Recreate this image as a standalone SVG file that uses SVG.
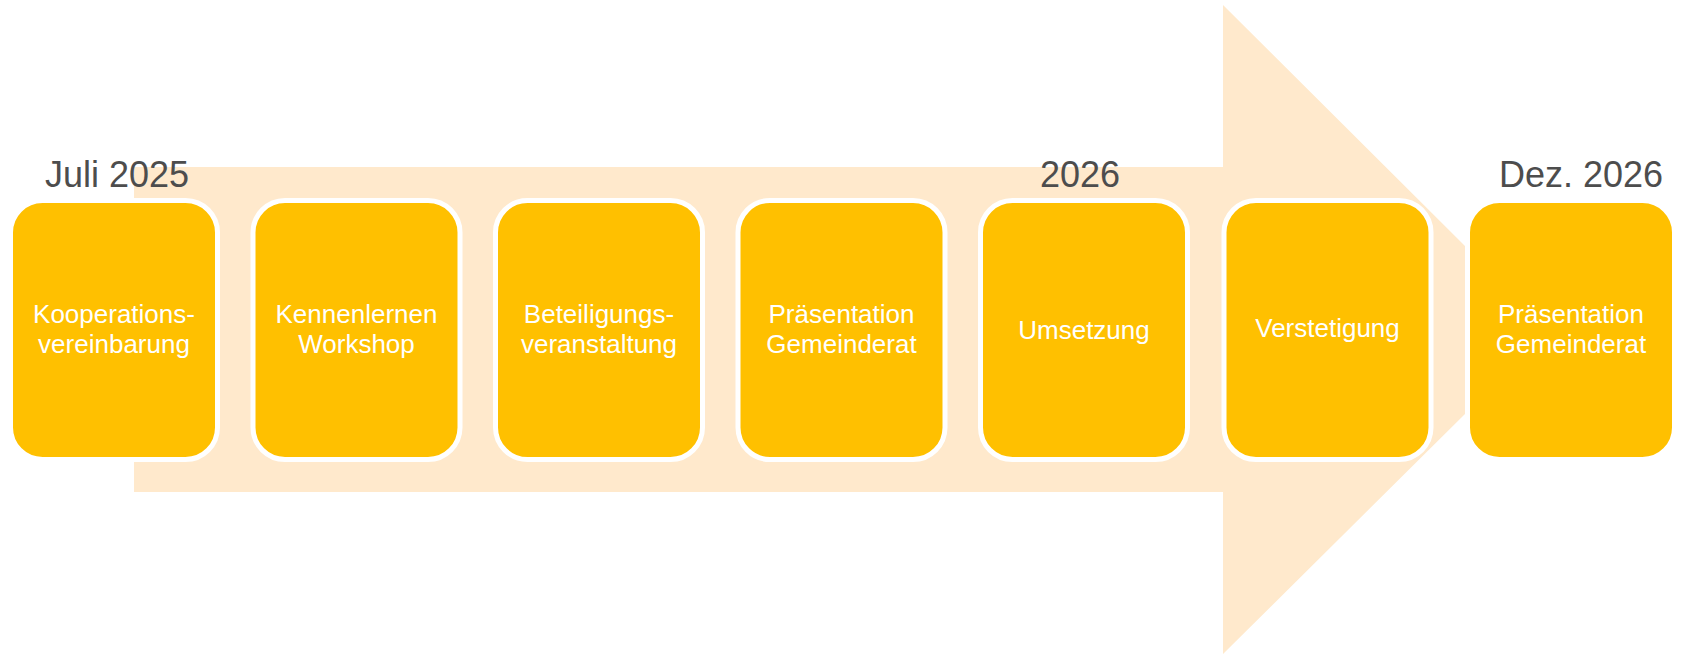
<svg xmlns="http://www.w3.org/2000/svg" width="1683" height="656" viewBox="0 0 1683 656">
<style>
.box{fill:#FFC000;stroke:#FFFFFF;stroke-width:5}
.lbl{font-family:"Liberation Sans",Arial,sans-serif;font-size:26px;fill:#FFFFFF;text-anchor:middle}
.date{font-family:"Liberation Sans",Arial,sans-serif;font-size:36px;fill:#4D4D4D}
</style>
<rect width="1683" height="656" fill="#FFFFFF"/>
<g id="connectors">
<polygon id="timeline-arrow" points="134,167 1223,167 1223,5 1465,246 1465,414 1223,654 1223,492 134,492" fill="#FFE9CC"/>
</g>
<g id="dates">
<text class="date" x="45" y="187">Juli 2025</text>
<text class="date" x="1040" y="187">2026</text>
<text class="date" x="1499" y="187">Dez. 2026</text>
</g>
<g id="node1">
<rect class="box" x="10.5" y="200.5" width="207" height="259" rx="32"/>
<text class="lbl" x="114" y="323">Kooperations-</text>
<text class="lbl" x="114" y="353">vereinbarung</text>
</g>
<g id="node2">
<rect class="box" x="253" y="200.5" width="207" height="259" rx="32"/>
<text class="lbl" x="356.5" y="323">Kennenlernen</text>
<text class="lbl" x="356.5" y="353">Workshop</text>
</g>
<g id="node3">
<rect class="box" x="495.5" y="200.5" width="207" height="259" rx="32"/>
<text class="lbl" x="599" y="323">Beteiligungs-</text>
<text class="lbl" x="599" y="353">veranstaltung</text>
</g>
<g id="node4">
<rect class="box" x="738" y="200.5" width="207" height="259" rx="32"/>
<text class="lbl" x="841.5" y="323">Präsentation</text>
<text class="lbl" x="841.5" y="353">Gemeinderat</text>
</g>
<g id="node5">
<rect class="box" x="980.5" y="200.5" width="207" height="259" rx="32"/>
<text class="lbl" x="1084" y="339">Umsetzung</text>
</g>
<g id="node6">
<rect class="box" x="1224" y="200.5" width="207" height="259" rx="32"/>
<text class="lbl" x="1327.5" y="337">Verstetigung</text>
</g>
<g id="node7">
<rect class="box" x="1467.5" y="200.5" width="207" height="259" rx="32"/>
<text class="lbl" x="1571" y="323">Präsentation</text>
<text class="lbl" x="1571" y="353">Gemeinderat</text>
</g>
</svg>
